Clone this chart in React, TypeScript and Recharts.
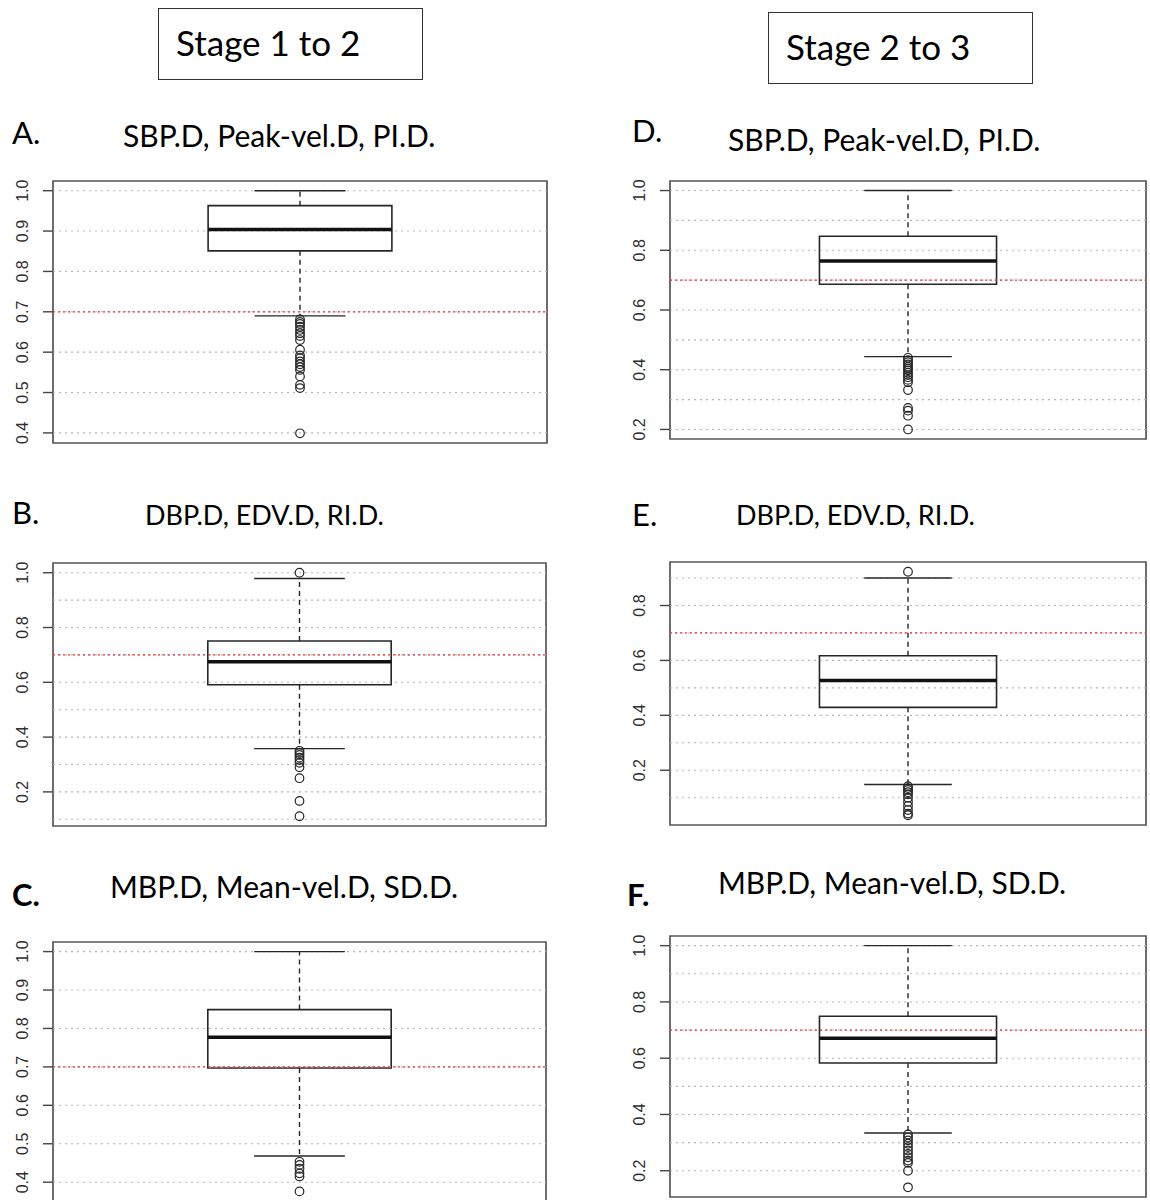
import React from "react";
import {
  ComposedChart,
  XAxis,
  YAxis,
  Scatter,
  ReferenceLine,
  ReferenceArea,
} from "recharts";

// panel order: A, B, C (stage 1 to 2), D, E, F (stage 2 to 3)
const panelLetters = ["A.", "B.", "C.", "D.", "E.", "F."];
const panelTitles = [
  "SBP.D, Peak-vel.D, PI.D.",
  "DBP.D, EDV.D, RI.D.",
  "MBP.D, Mean-vel.D, SD.D.",
  "SBP.D, Peak-vel.D, PI.D.",
  "DBP.D, EDV.D, RI.D.",
  "MBP.D, Mean-vel.D, SD.D.",
];
const stageLabels = ["Stage 1 to 2", "Stage 2 to 3"];

const lowerWhisker = [0.69, 0.358, 0.468, 0.444, 0.148, 0.334];
const firstQuartile = [0.851, 0.591, 0.697, 0.686, 0.429, 0.583];
const medians = [0.904, 0.675, 0.777, 0.764, 0.527, 0.671];
const thirdQuartile = [0.963, 0.751, 0.849, 0.847, 0.617, 0.749];
const upperWhisker = [1.0, 0.979, 1.0, 1.0, 0.9, 1.0];

const outliersA = [
  0.681, 0.675, 0.67, 0.663, 0.655, 0.647, 0.64, 0.63, 0.606, 0.592, 0.585,
  0.577, 0.57, 0.563, 0.556, 0.54, 0.519, 0.511, 0.399,
];
const outliersB = [1.0, 0.35, 0.342, 0.335, 0.325, 0.316, 0.306, 0.29, 0.25, 0.167, 0.111];
const outliersC = [0.453, 0.445, 0.435, 0.423, 0.415, 0.376];
const outliersD = [
  0.44, 0.432, 0.425, 0.418, 0.41, 0.404, 0.398, 0.39, 0.382, 0.375, 0.366,
  0.358, 0.332, 0.272, 0.263, 0.246, 0.2,
];
const outliersE = [0.923, 0.142, 0.135, 0.128, 0.12, 0.112, 0.1, 0.085, 0.07, 0.055, 0.042, 0.036];
const outliersF = [0.329, 0.318, 0.308, 0.296, 0.284, 0.272, 0.26, 0.248, 0.236, 0.228, 0.2, 0.141];
const outliers = [outliersA, outliersB, outliersC, outliersD, outliersE, outliersF];

const ticksTenths = [0.4, 0.5, 0.6, 0.7, 0.8, 0.9, 1.0];
const ticksFifthsTo1 = [0.2, 0.4, 0.6, 0.8, 1.0];
const ticksFifthsTo08 = [0.2, 0.4, 0.6, 0.8];
const yTicks = [ticksTenths, ticksFifthsTo1, ticksTenths, ticksFifthsTo1, ticksFifthsTo08, ticksFifthsTo1];

const gridFrom04 = [0.4, 0.5, 0.6, 0.7, 0.8, 0.9, 1.0];
const gridFrom01 = [0.1, 0.2, 0.3, 0.4, 0.5, 0.6, 0.7, 0.8, 0.9, 1.0];
const gridFrom02 = [0.2, 0.3, 0.4, 0.5, 0.6, 0.7, 0.8, 0.9, 1.0];
const gridTo09 = [0.1, 0.2, 0.3, 0.4, 0.5, 0.6, 0.7, 0.8, 0.9];
const gridLines = [gridFrom04, gridFrom01, gridFrom04, gridFrom02, gridTo09, gridFrom02];

const cutoff = 0.7;

// frame placement of each panel on the page
const frames = [
  { left: 0, frameLeft: 53, frameRight: 547, frameTop: 181, frameBottom: 443 },
  { left: 0, frameLeft: 53, frameRight: 546, frameTop: 563, frameBottom: 826 },
  { left: 0, frameLeft: 53, frameRight: 546, frameTop: 942, frameBottom: 1201 },
  { left: 600, frameLeft: 670, frameRight: 1146, frameTop: 181, frameBottom: 439 },
  { left: 600, frameLeft: 670, frameRight: 1146, frameTop: 562, frameBottom: 825 },
  { left: 600, frameLeft: 670, frameRight: 1146, frameTop: 936, frameBottom: 1197 },
];
const headings = [
  { lx: 12, ly: 112, tx: 123, ty: 116, bold: false, size: 30 },
  { lx: 12, ly: 492, tx: 145, ty: 496, bold: false, size: 27 },
  { lx: 12, ly: 874, tx: 110, ty: 867, bold: true, size: 30 },
  { lx: 632, ly: 110, tx: 728, ty: 120, bold: false, size: 30 },
  { lx: 632, ly: 494, tx: 736, ty: 496, bold: false, size: 27 },
  { lx: 627, ly: 874, tx: 718, ty: 863, bold: true, size: 30 },
];

const PAD = 10;
const BOX_HALF = 0.186;
const CAP_HALF = 0.092;
const INK = "#262626";

function domainOf(i: number): [number, number] {
  const vals = [lowerWhisker[i], upperWhisker[i], ...outliers[i]];
  const lo = Math.min(...vals);
  const hi = Math.max(...vals);
  const ext = (hi - lo) * 0.04;
  return [lo - ext, hi + ext];
}

function OpenCircle(props: any) {
  const { cx, cy } = props;
  if (cx == null || cy == null) return null;
  return <circle cx={cx} cy={cy} r={4.3} fill="none" stroke={INK} strokeWidth={1.2} />;
}

function BoxPanel({ i }: { i: number }) {
  const f = frames[i];
  const yW = f.frameLeft - f.left;
  const width = f.frameRight - f.left + 4;
  const height = f.frameBottom - f.frameTop + PAD * 2;
  const domain = domainOf(i);
  const pts = outliers[i].map((v) => ({ x: 0.5, y: v }));

  const tick = (props: any) => {
    const { y, payload } = props;
    const bx = yW - 25;
    return (
      <text
        x={bx}
        y={y}
        transform={`rotate(-90, ${bx}, ${y})`}
        textAnchor="middle"
        fontFamily="'Liberation Sans', Arial, sans-serif"
        fontSize={16}
        fill="#2e2e2e"
      >
        {Number(payload.value).toFixed(1)}
      </text>
    );
  };

  return (
    <div style={{ position: "absolute", left: f.left, top: f.frameTop - PAD }}>
      <ComposedChart width={width} height={height} margin={{ top: PAD, right: 4, bottom: PAD, left: 0 }}>
        <XAxis type="number" dataKey="x" domain={[0, 1]} hide allowDataOverflow />
        <YAxis
          type="number"
          domain={domain}
          ticks={yTicks[i]}
          width={yW}
          allowDataOverflow
          axisLine={false}
          tickSize={10}
          tickLine={{ stroke: "#444", strokeWidth: 1.4 }}
          tick={tick}
        />
        {gridLines[i].map((g) => (
          <ReferenceLine key={g} y={g} stroke="#b5b5b5" strokeWidth={1.1} strokeDasharray="2 4" />
        ))}
        <ReferenceLine y={cutoff} stroke="#f03030" strokeWidth={1.3} strokeDasharray="2 3" />
        <ReferenceLine
          segment={[{ x: 0.5, y: thirdQuartile[i] }, { x: 0.5, y: upperWhisker[i] }]}
          stroke={INK}
          strokeWidth={1.4}
          strokeDasharray="5 4"
        />
        <ReferenceLine
          segment={[{ x: 0.5, y: firstQuartile[i] }, { x: 0.5, y: lowerWhisker[i] }]}
          stroke={INK}
          strokeWidth={1.4}
          strokeDasharray="5 4"
        />
        <ReferenceLine
          segment={[{ x: 0.5 - CAP_HALF, y: upperWhisker[i] }, { x: 0.5 + CAP_HALF, y: upperWhisker[i] }]}
          stroke={INK}
          strokeWidth={1.4}
        />
        <ReferenceLine
          segment={[{ x: 0.5 - CAP_HALF, y: lowerWhisker[i] }, { x: 0.5 + CAP_HALF, y: lowerWhisker[i] }]}
          stroke={INK}
          strokeWidth={1.4}
        />
        <ReferenceArea
          x1={0.5 - BOX_HALF}
          x2={0.5 + BOX_HALF}
          y1={firstQuartile[i]}
          y2={thirdQuartile[i]}
          fill="none"
          stroke={INK}
          strokeWidth={1.6}
          ifOverflow="visible"
        />
        <ReferenceLine
          segment={[{ x: 0.5 - BOX_HALF, y: medians[i] }, { x: 0.5 + BOX_HALF, y: medians[i] }]}
          stroke="#111"
          strokeWidth={3.4}
        />
        <Scatter data={pts} dataKey="y" shape={OpenCircle} isAnimationActive={false} />
        <ReferenceArea
          x1={0}
          x2={1}
          y1={domain[0]}
          y2={domain[1]}
          fill="none"
          stroke="#555"
          strokeWidth={1.7}
          ifOverflow="visible"
        />
      </ComposedChart>
    </div>
  );
}

const titleFont = "Lato, 'Open Sans', sans-serif";

export default function App() {
  return (
    <div
      style={{
        position: "absolute",
        left: 0,
        top: 0,
        width: 1150,
        height: 1200,
        background: "#fff",
        overflow: "hidden",
        fontFamily: titleFont,
        color: "#000",
      }}
    >
      {stageLabels.map((s, k) => (
        <div
          key={s}
          style={{
            position: "absolute",
            left: k === 0 ? 158 : 768,
            top: k === 0 ? 8 : 12,
            width: 265,
            height: 72,
            boxSizing: "border-box",
            border: "1.5px solid #333",
            fontSize: 35,
            lineHeight: "66px",
            paddingLeft: 17,
            whiteSpace: "nowrap",
          }}
        >
          {s}
        </div>
      ))}
      {headings.map((h, i) => (
        <React.Fragment key={i}>
          <div
            style={{
              position: "absolute",
              left: h.lx,
              top: h.ly,
              fontSize: 31,
              lineHeight: "40px",
              fontWeight: h.bold ? 700 : 400,
            }}
          >
            {panelLetters[i]}
          </div>
          <div
            style={{
              position: "absolute",
              left: h.tx,
              top: h.ty,
              fontSize: h.size,
              lineHeight: "38px",
              whiteSpace: "nowrap",
            }}
          >
            {panelTitles[i]}
          </div>
        </React.Fragment>
      ))}
      {frames.map((_, i) => (
        <BoxPanel key={i} i={i} />
      ))}
    </div>
  );
}
